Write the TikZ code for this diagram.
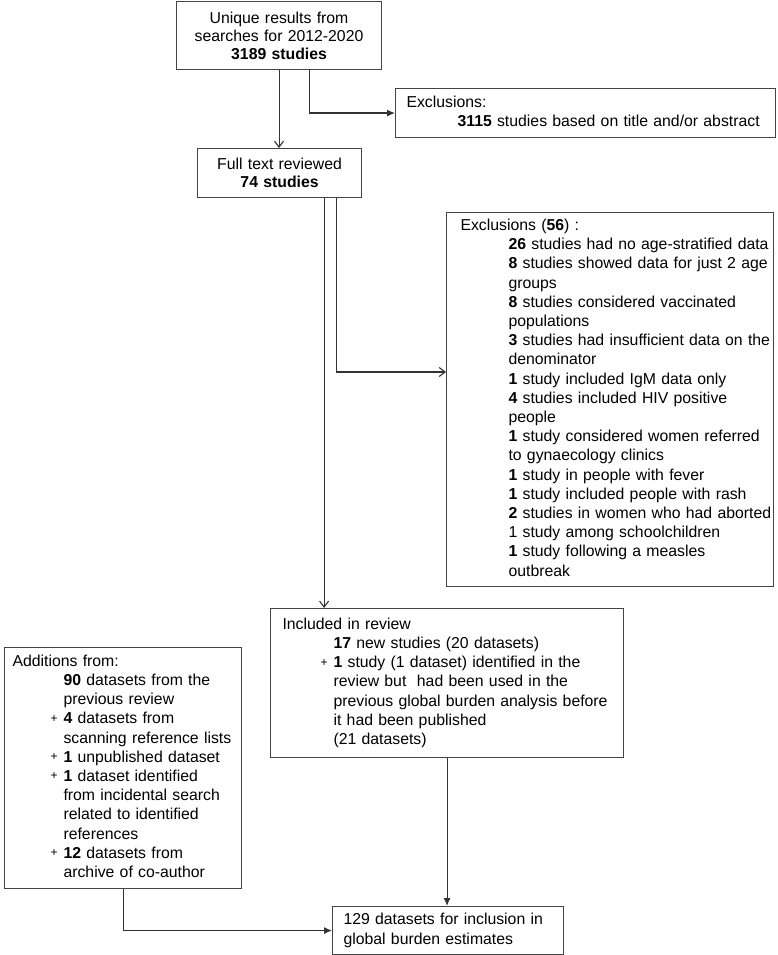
\documentclass[tikz,border=0pt]{standalone}
\usepackage{fontspec}
\setmainfont{Liberation Sans}
\usetikzlibrary{arrows.meta}
\definecolor{linec}{HTML}{333333}
\definecolor{boxc}{HTML}{444444}
\newcommand{\pls}{\makebox[13pt][l]{\fontsize{12}{12}\selectfont\raisebox{1.5pt}{+}}}
\begin{document}
\begin{tikzpicture}[x=1pt,y=-1pt,
  box/.style={draw=boxc, line width=1.1pt, anchor=north west, inner ysep=0pt, align=left,
              font=\fontsize{15.8}{19.2}\selectfont, text=black},
  cbox/.style={box, align=center, font=\fontsize{15.8}{18}\selectfont},
  conn/.style={draw=linec, line width=1.1pt},
  fa/.style={conn, -{Latex[length=8pt,width=7pt]}},
  oa/.style={conn, -{Straight Barb[length=6pt,width=9pt]}}]
\useasboundingbox (0,0) rectangle (777,955);

\node[cbox, minimum width=205pt, minimum height=68pt, text width=195pt, inner xsep=5pt] (search) at (176,1)
  {Unique results from\\searches for 2012-2020\\\textbf{3189 studies}};

\node[cbox, minimum width=164pt, minimum height=49pt, text width=154pt, inner xsep=5pt] (full) at (197,148)
  {Full text reviewed\\\textbf{74 studies}};

\node[box, minimum width=380pt, minimum height=49pt, text width=358pt, inner xsep=11pt] (excla) at (395,88)
  {\begin{tabular}{@{}l@{}}Exclusions:\\
   \hspace*{51pt}\textbf{3115} studies based on title and/or abstract\end{tabular}};

\node[box, minimum width=327pt, minimum height=374pt, text width=299pt, inner xsep=14pt] (exclb) at (446,212)
  {\begin{tabular}{@{}l@{}}Exclusions (\textbf{56}) :\\
   \hspace*{48pt}\textbf{26} studies had no age-stratified data\\
   \hspace*{48pt}\textbf{8} studies showed data for just 2 age\\
   \hspace*{48pt}groups\\
   \hspace*{48pt}\textbf{8} studies considered vaccinated\\
   \hspace*{48pt}populations\\
   \hspace*{48pt}\textbf{3} studies had insufficient data on the\\
   \hspace*{48pt}denominator\\
   \hspace*{48pt}\textbf{1} study included IgM data only\\
   \hspace*{48pt}\textbf{4} studies included HIV positive\\
   \hspace*{48pt}people\\
   \hspace*{48pt}\textbf{1} study considered women referred\\
   \hspace*{48pt}to gynaecology clinics\\
   \hspace*{48pt}\textbf{1} study in people with fever\\
   \hspace*{48pt}\textbf{1} study included people with rash\\
   \hspace*{48pt}\textbf{2} studies in women who had aborted\\
   \hspace*{48pt}1 study among schoolchildren\\
   \hspace*{48pt}\textbf{1} study following a measles\\
   \hspace*{48pt}outbreak\end{tabular}};

\node[box, minimum width=353pt, minimum height=149pt, text width=329pt, inner xsep=12pt] (incl) at (270,608)
  {\begin{tabular}{@{}l@{}}Included in review\\
   \hspace*{51pt}\textbf{17} new studies (20 datasets)\\
   \hspace*{38pt}\pls\textbf{1} study (1 dataset) identified in the\\
   \hspace*{51pt}review but~ had been used in the\\
   \hspace*{51pt}previous global burden analysis before\\
   \hspace*{51pt}it had been published\\
   \hspace*{51pt}(21 datasets)\end{tabular}};

\node[box, minimum width=237pt, minimum height=241pt, text width=221pt, inner xsep=8pt] (addn) at (4,647)
  {\begin{tabular}{@{}l@{}}Additions from:\\
   \hspace*{51pt}\textbf{90} datasets from the\\
   \hspace*{51pt}previous review\\
   \hspace*{38pt}\pls\textbf{4} datasets from\\
   \hspace*{51pt}scanning reference lists\\
   \hspace*{38pt}\pls\textbf{1} unpublished dataset\\
   \hspace*{38pt}\pls\textbf{1} dataset identified\\
   \hspace*{51pt}from incidental search\\
   \hspace*{51pt}related to identified\\
   \hspace*{51pt}references\\
   \hspace*{38pt}\pls\textbf{12} datasets from\\
   \hspace*{51pt}archive of co-author\end{tabular}};

\node[box, minimum width=231pt, minimum height=48pt, text width=209pt, inner xsep=11pt] (final) at (332,906)
  {\begin{tabular}{@{}l@{}}129 datasets for inclusion in\\global burden estimates\end{tabular}};

\coordinate (bend) at ([xshift=-26pt]full.south east |- 0,372);

\draw[oa] (search.south) -- (search.south |- full.north);
\draw[fa] ([xshift=30pt]search.south) |- (excla.west);
\draw[oa] ([xshift=-38pt]full.south east) -- ([xshift=-38pt]full.south east |- incl.north);
\draw[oa] ([xshift=-26pt]full.south east) -- (bend) -- (bend -| exclb.west);
\draw[fa] (incl.south) -- (incl.south |- final.north);
\draw[fa] (addn.south) |- (final.west);
\end{tikzpicture}
\end{document}
